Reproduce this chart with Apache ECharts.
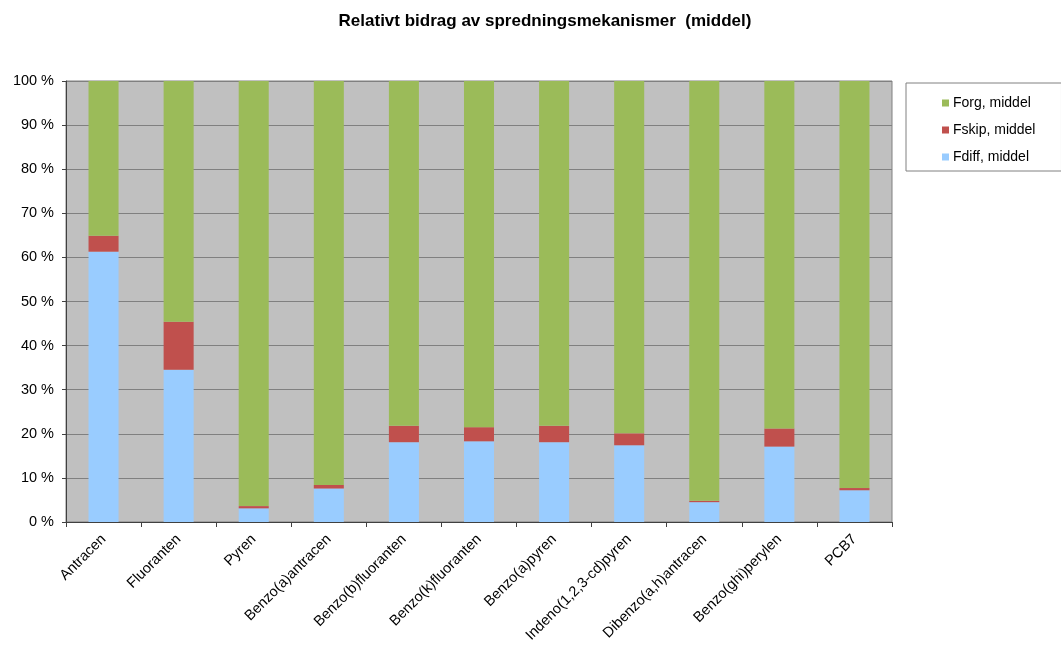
<!DOCTYPE html>
<html>
<head>
<meta charset="utf-8">
<script src="https://cdn.jsdelivr.net/npm/echarts@6/dist/echarts.min.js"></script>
<style>html,body{margin:0;padding:0;background:#fff;}#c{width:1061px;height:646px;}</style>
</head>
<body>
<div id="c"></div>
<script>
var categories = ['Antracen','Fluoranten','Pyren','Benzo(a)antracen','Benzo(b)fluoranten','Benzo(k)fluoranten','Benzo(a)pyren','Indeno(1,2,3-cd)pyren','Dibenzo(a,h)antracen','Benzo(ghi)perylen','PCB7'];
var fdiff = [61.3, 34.5, 3.1, 7.6, 18.1, 18.3, 18.1, 17.4, 4.5, 17.1, 7.2];
var fskip = [3.6, 10.9, 0.5, 0.8, 3.7, 3.2, 3.7, 2.7, 0.3, 4.1, 0.5];
var forg = [35.1, 54.6, 96.4, 91.6, 78.2, 78.5, 78.2, 79.9, 95.2, 78.8, 92.3];

var chart = echarts.init(document.getElementById('c'));
var font = 'Liberation Sans, Arial, sans-serif';
chart.setOption({
  animation: false,
  textStyle: {fontFamily: font},
  title: {
    text: 'Relativt bidrag av spredningsmekanismer  (middel)',
    left: 540, top: 8, textAlign: 'center',
    textStyle: {fontFamily: font, fontSize: 17, fontWeight: 'bold', color: '#000'}
  },
  legend: {
    orient: 'vertical',
    left: 906, top: 83,
    data: ['Forg, middel', 'Fskip, middel', 'Fdiff, middel'],
    icon: 'rect', itemWidth: 7, itemHeight: 7, itemGap: 11,
    padding: [12, 26, 6, 36],
    borderColor: '#808080', borderWidth: 1, backgroundColor: '#fff', borderRadius: 0,
    textStyle: {fontFamily: font, fontSize: 14, lineHeight: 16, color: '#000', padding: [0,0,0,-1]}
  },
  grid: {left: 66, top: 81, width: 826, height: 441, show: true, backgroundColor: '#C0C0C0', borderWidth: 1, borderColor: '#808080'},
  xAxis: {
    type: 'category', data: categories,
    axisLine: {lineStyle: {color: '#404040', width: 1}},
    axisTick: {show: true, length: 5, lineStyle: {color: '#404040'}},
    axisLabel: {rotate: 45, interval: 0, fontSize: 14.5, color: '#000', fontFamily: font, margin: 15}
  },
  yAxis: {
    type: 'value', min: 0, max: 100, interval: 10,
    axisLine: {show: true, lineStyle: {color: '#404040', width: 1}},
    axisTick: {show: true, length: 4, lineStyle: {color: '#404040'}},
    axisLabel: {formatter: '{value} %', fontSize: 14.5, color: '#000', fontFamily: font, margin: 12},
    splitLine: {lineStyle: {color: '#808080', width: 1}}
  },
  series: [
    {name: 'Fdiff, middel', type: 'bar', stack: 's', data: fdiff, barWidth: '40%', itemStyle: {color: '#99CCFF'}},
    {name: 'Fskip, middel', type: 'bar', stack: 's', data: fskip, barWidth: '40%', itemStyle: {color: '#C0504D'}},
    {name: 'Forg, middel', type: 'bar', stack: 's', data: forg, barWidth: '40%', itemStyle: {color: '#9BBB59'}}
  ]
});
</script>
</body>
</html>
